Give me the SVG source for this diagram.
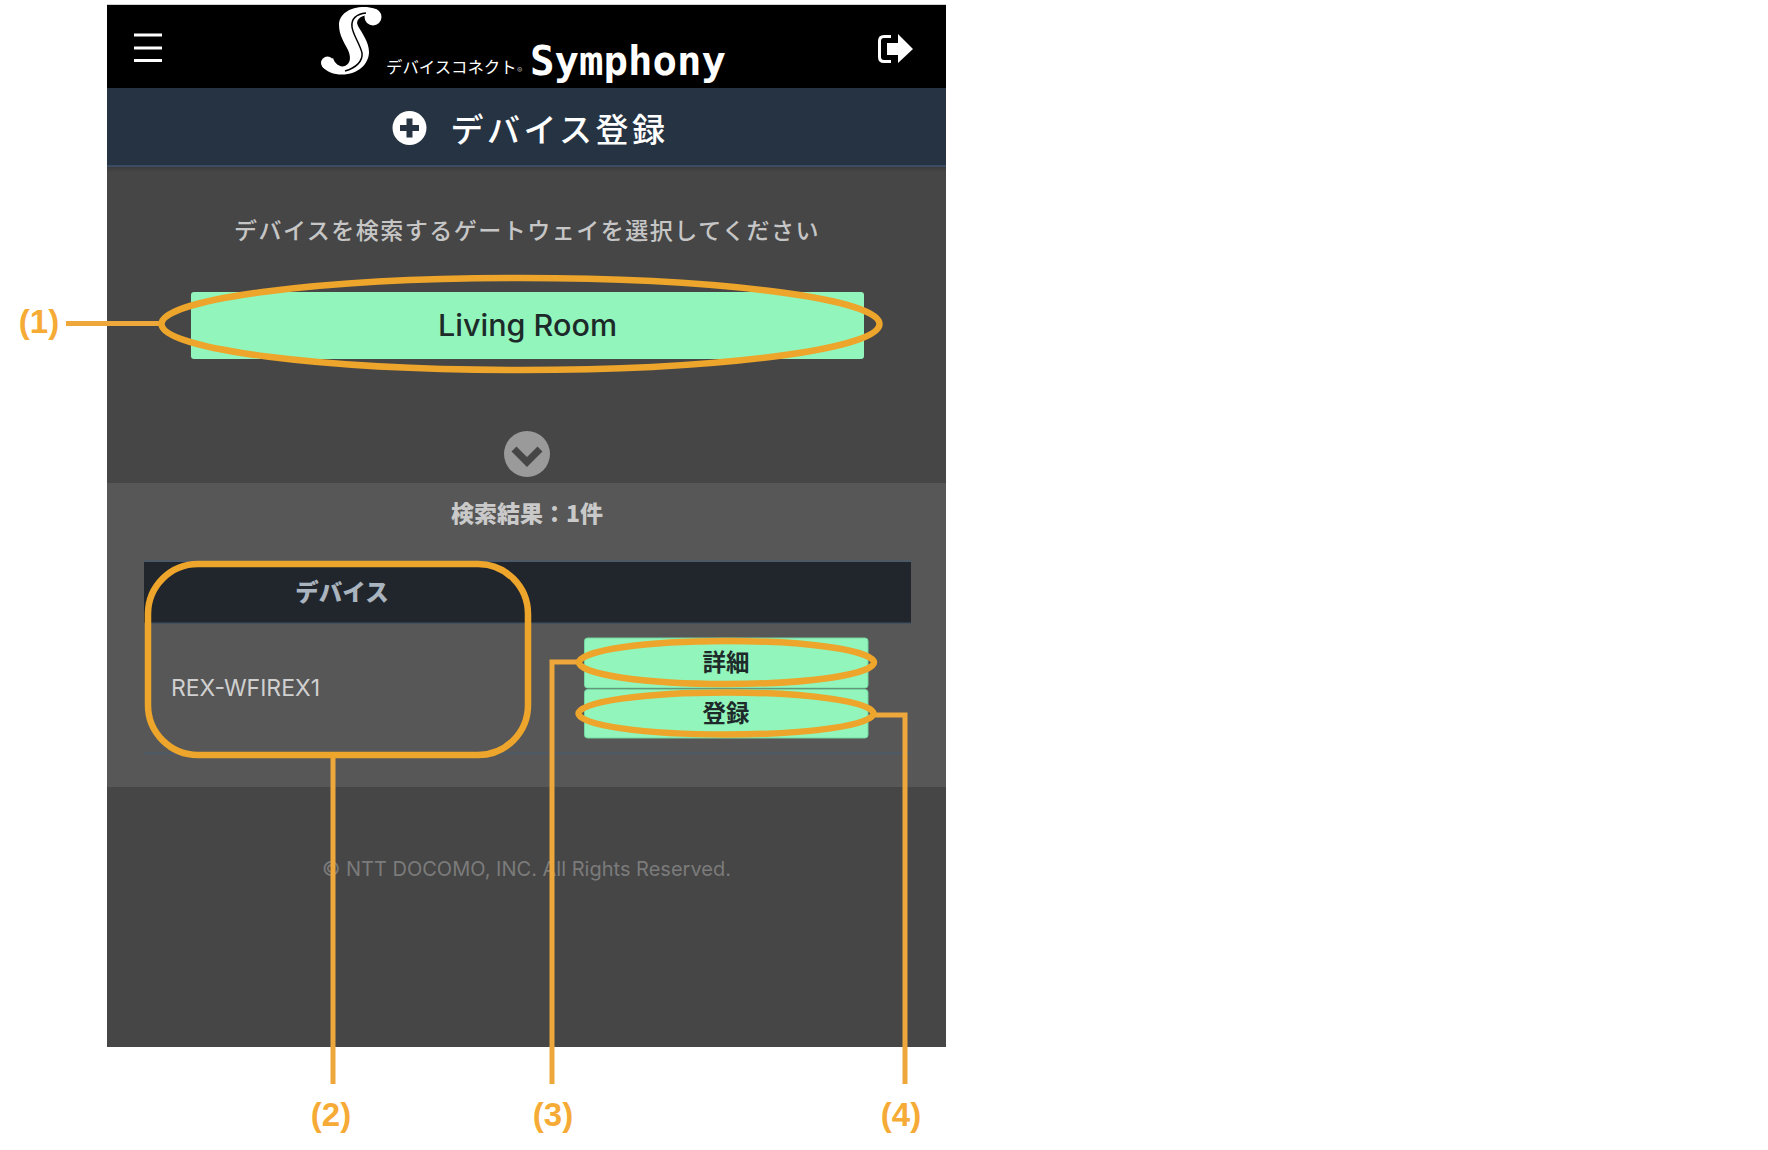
<svg xmlns="http://www.w3.org/2000/svg" width="1768" height="1150" viewBox="0 0 1768 1150">
<defs>
<style>
.jp{font-family:"Noto Sans CJK JP","Noto Sans",sans-serif}
.lat{font-family:"Inter","Roboto","Liberation Sans",sans-serif}
.c{text-anchor:middle;dominant-baseline:central}
.btn{fill:#92f5bb}
.edge{stroke:#74d6a0;stroke-width:1}
.ring{fill:none;stroke:#eda52b;stroke-width:6.500}
.lead{fill:none;stroke:#eda73b;stroke-width:5}
.lab{font-family:"Liberation Sans",Arial,sans-serif;font-weight:700;font-size:33px;fill:#f5ab35;text-anchor:middle}
</style>
<linearGradient id="sh" x1="0" y1="0" x2="0" y2="1"><stop offset="0" stop-color="#3a3a3a"/><stop offset="1" stop-color="#464646"/></linearGradient>
</defs>
<rect width="1768" height="1150" fill="#ffffff"/>
<g id="screen">
<rect x="107" y="4" width="839" height="1" fill="#d0d0d0"/>
<rect x="107" y="5" width="839" height="1042" fill="#464646"/>
<rect x="107" y="166" width="839" height="6" fill="url(#sh)"/>
<rect x="107" y="483" width="839" height="304" fill="#575757"/>
</g>
<g id="header">
<rect x="107" y="5" width="839" height="83" fill="#000000"/>
<g id="menu-icon" fill="#ffffff"><rect x="134" y="33.500" width="28" height="3"/><rect x="134" y="46.500" width="28" height="3"/><rect x="134" y="59" width="28" height="3"/></g>
<g id="logo">
<circle cx="373" cy="17" r="8.500" fill="#ffffff"/>
<circle cx="327.500" cy="63" r="6.500" fill="#ffffff"/>
<path d="M381 15 C378 9 372 7 364 7 C350 7 339 14 339 25 C339 35 344 42 348 50 C351 57 351 63 345 66 C339 68 334 62 333 58 L322 66 C326 72 334 74.500 342 74.500 C358 74.500 369 64 369 52 C369 42 362 33 358 26 C355 20 360 16 368 15 Z" fill="#ffffff"/>
<path d="M366 13 C356 14 351 19 352 27 C353 35 360 44 362 53 C363 61 356 68 345 71" fill="none" stroke="#000000" stroke-width="1.500"/>
<text x="386" y="73" class="jp" font-size="16.400" fill="#ffffff">デバイスコネクト</text>
<text x="517" y="73" class="lat" font-size="8" fill="#aaaaaa">®</text>
<text x="530" y="74.500" font-family="'DejaVu Sans Mono',monospace" font-size="41" font-weight="700" fill="#ffffff" textLength="196" lengthAdjust="spacingAndGlyphs">Symphony</text>
</g>
<g id="exit-icon">
<path d="M891 36.500 H884 Q879.500 36.500 879.500 41 V57 Q879.500 61.500 884 61.500 H891" fill="none" stroke="#ffffff" stroke-width="3"/>
<path d="M887 43 H898 V34 L913 49 L898 63 V55 H887 Z" fill="#ffffff"/>
</g>
</g>
<g id="title-bar">
<rect x="107" y="88" width="839" height="78" fill="#253342"/>
<rect x="107" y="165" width="839" height="2" fill="#3a4d63"/>
<circle cx="409.500" cy="128" r="17" fill="#ffffff"/>
<path d="M409.500 118.500 V137.500 M400 128 H419" stroke="#253342" stroke-width="6"/>
<text x="559.500" y="127.500" class="jp c" font-size="33" font-weight="500" letter-spacing="3.500" fill="#ffffff">デバイス登録</text>
</g>
<text id="prompt" x="527" y="229" class="jp c" font-size="23" font-weight="500" letter-spacing="1.500" fill="#c6c6c6">デバイスを検索するゲートウェイを選択してください</text>
<g id="gateway-button">
<rect x="191" y="292" width="673" height="67" rx="3" class="btn"/>
<text x="527.500" y="325" class="lat c" font-size="30" font-weight="500" fill="#1d2a2a" textLength="179" lengthAdjust="spacingAndGlyphs">Living Room</text>
</g>
<g id="chevron">
<circle cx="527" cy="454" r="23" fill="#9a9a9a"/>
<path d="M514 449 L527 462 L540 449" fill="none" stroke="#464646" stroke-width="7"/>
</g>
<text id="result-count" x="527" y="512" class="jp c" font-size="23" font-weight="900" fill="#c9c9c9">検索結果：1件</text>
<g id="device-table">
<rect x="144" y="561" width="767" height="62" fill="#21262d"/>
<rect x="144" y="560.500" width="767" height="1.500" fill="#4a5a6c"/>
<rect x="144" y="622.500" width="767" height="1.500" fill="#44515f"/>
<rect x="144" y="752.500" width="767" height="1.500" fill="#4a5a6c"/>
<text x="342" y="591" class="jp c" font-size="23.500" font-weight="900" fill="#a9b4bf">デバイス</text>
<text x="171" y="688" class="lat" font-size="23" fill="#d0d0d0" dominant-baseline="central" textLength="149" lengthAdjust="spacingAndGlyphs">REX-WFIREX1</text>
</g>
<g id="detail-button">
<rect x="584.500" y="638" width="283.500" height="50" rx="3" class="btn edge"/>
<text x="726" y="661" class="jp c" font-size="23.500" font-weight="700" fill="#1e2a2a">詳細</text>
</g>
<g id="register-button">
<rect x="584.500" y="689.500" width="283.500" height="48.500" rx="3" class="btn edge"/>
<text x="726" y="711.500" class="jp c" font-size="23.500" font-weight="700" fill="#1e2a2a">登録</text>
</g>
<text id="copyright" x="526.500" y="869" class="lat c" font-size="20" fill="#7b7b7b" textLength="409" lengthAdjust="spacingAndGlyphs">© NTT DOCOMO, INC. All Rights Reserved.</text>
<g id="connectors">
<path class="lead" d="M66 323.500 H159"/>
<path class="lead" d="M333 757 V1084"/>
<path class="lead" d="M578 662 H552 V1084"/>
<path class="lead" d="M875 715 H905 V1084"/>
</g>
<g id="callouts">
<ellipse class="ring" cx="520.500" cy="324" rx="359" ry="46"/>
<rect class="ring" x="148" y="564" width="380" height="191" rx="50" ry="50"/>
<ellipse class="ring" cx="726.500" cy="662.500" rx="147.500" ry="21.500"/>
<ellipse class="ring" cx="726" cy="713.500" rx="147.500" ry="21"/>
</g>
<g id="labels">
<text class="lab" x="39" y="333">(1)</text>
<text class="lab" x="331" y="1126">(2)</text>
<text class="lab" x="553" y="1126">(3)</text>
<text class="lab" x="901" y="1126">(4)</text>
</g>
</svg>
